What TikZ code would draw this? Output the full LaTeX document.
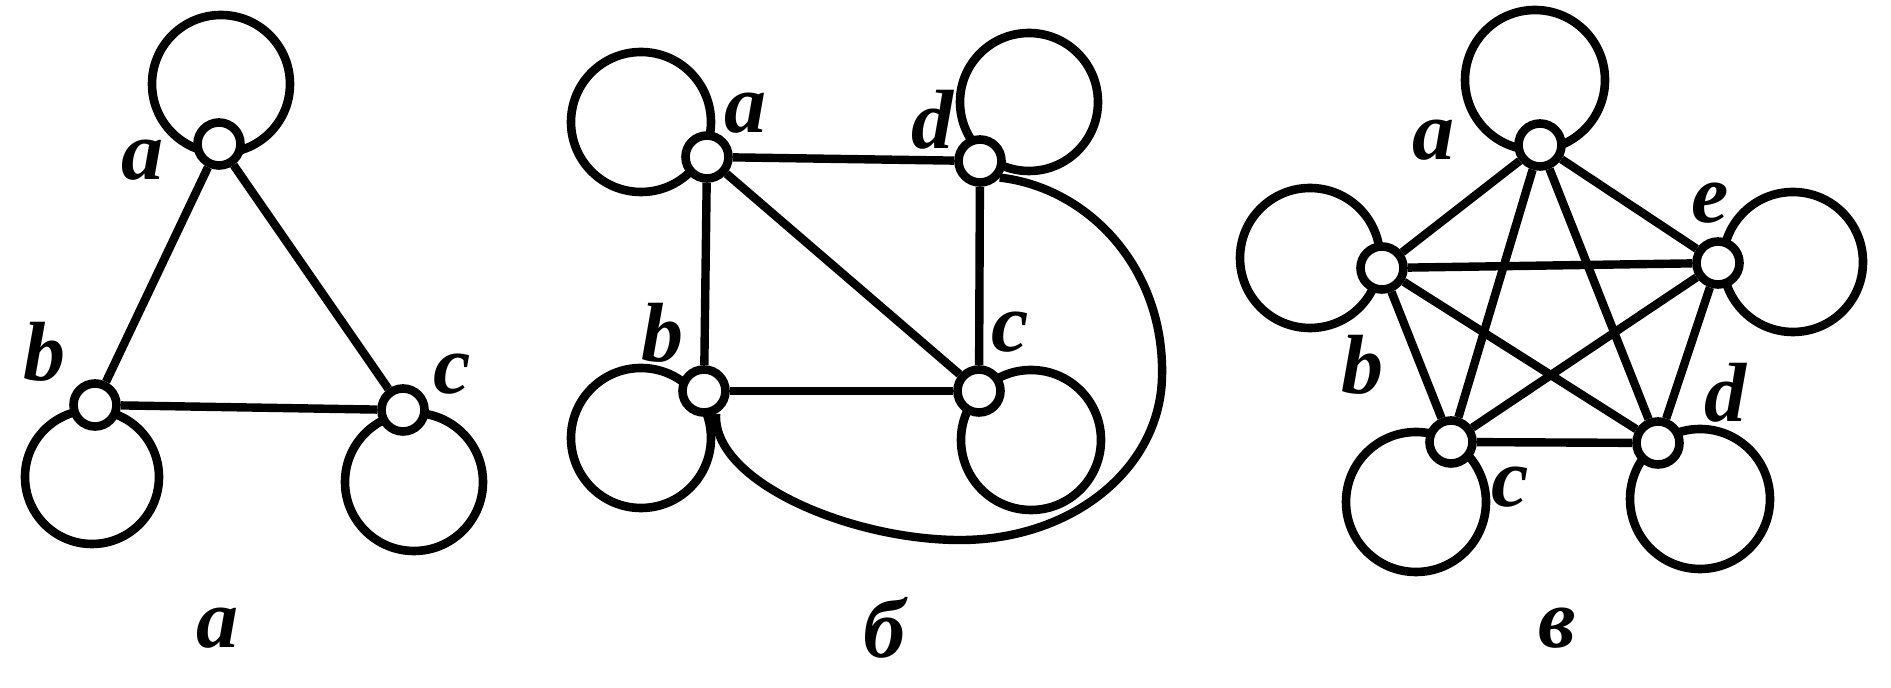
\documentclass[tikz,border=0pt]{standalone}
\usepackage{fontspec}
\setmainfont{Liberation Serif}
\usetikzlibrary{positioning}
\newcommand\lblfont{\fontsize{42}{44}\selectfont\bfseries\itshape}
\tikzset{
  vertex/.style={circle,draw=black,fill=white,line width=4.3pt,inner sep=0pt,minimum size=21.5pt},
  edge/.style={draw=black,line width=4.2pt},
  loopline/.style={draw=black,line width=4.3pt},
  lbl/.style={font=\lblfont,inner sep=0pt}
}

\begin{document}
\begin{tikzpicture}[x=0.5pt,y=-0.5pt]
\useasboundingbox[fill=white] (0,0) rectangle (1891,688);
% Graph a: loops
\draw[loopline] (221,84) circle[radius=34.5pt];
\draw[loopline] (92,477) circle[radius=33.5pt];
\draw[loopline] (414,482) circle[radius=34.5pt];
% Graph a: vertices
\node[vertex] (a1) at (219,144) {};
\node[vertex] (b1) at (95,405) {};
\node[vertex] (c1) at (403,410) {};
% Graph a: edges
\draw[edge] (a1) -- (b1);
\draw[edge] (a1) -- (c1);
\draw[edge] (b1) -- (c1);
\node[lbl] (la1) at (142,160) {a};
\node[lbl] (lb1) at (45,352) {b};
\node[lbl] (lc1) at (452,374) {c};
\node[lbl] (cap1) at (217,628) {а};

% Graph b: loops
\draw[loopline] (641,122) circle[radius=35pt];
\draw[loopline] (1029,102) circle[radius=34.5pt];
\draw[loopline] (641,438) circle[radius=35pt];
\draw[loopline] (1031,440) circle[radius=35pt];
% Graph b: vertices
\node[vertex] (a2) at (707,157) {};
\node[vertex] (d2) at (980,161) {};
\node[vertex] (b2) at (704,391) {};
\node[vertex] (c2) at (979,391) {};
% Graph b: edges
\draw[edge] (a2) -- (d2);
\draw[edge] (a2) -- (b2);
\draw[edge] (a2) -- (c2);
\draw[edge] (d2) -- (c2);
\draw[edge] (b2) -- (c2);
\draw[edge] (d2.-40) .. controls (1090,188) and (1165,270) .. (1162,377)
  .. controls (1160,470) and (1070,542) .. (955,540)
  .. controls (845,538) and (712,480) .. (b2.-62);
\node[lbl] (la2) at (745,113) {a};
\node[lbl] (ld2) at (932,120) {d};
\node[lbl] (lb2) at (662,333) {b};
\node[lbl] (lc2) at (1010,332) {c};
\node[lbl] (cap2) at (884,628) {б};

% Graph v: loops
\draw[loopline] (1535,80) circle[radius=35pt];
\draw[loopline] (1310,258) circle[radius=35pt];
\draw[loopline] (1793,262) circle[radius=35pt];
\draw[loopline] (1416,502) circle[radius=35pt];
\draw[loopline] (1700,499) circle[radius=35pt];
% Graph v: vertices
\node[vertex] (a3) at (1540,145) {};
\node[vertex] (b3) at (1382,268) {};
\node[vertex] (e3) at (1718,263) {};
\node[vertex] (c3) at (1451,442) {};
\node[vertex] (d3) at (1658,443) {};
% Graph v: edges
\foreach \u/\v in {a3/b3,a3/c3,a3/d3,a3/e3,b3/c3,b3/d3,b3/e3,c3/d3,c3/e3,d3/e3}
  \draw[edge] (\u) -- (\v);
\node[lbl] (la3) at (1433,140) {a};
\node[lbl] (lb3) at (1362,365) {b};
\node[lbl] (lc3) at (1510,487) {c};
\node[lbl] (ld3) at (1725,393) {d};
\node[lbl] (le3) at (1710,203) {e};
\node[lbl] (cap3) at (1557,628) {в};
\end{tikzpicture}
\end{document}
